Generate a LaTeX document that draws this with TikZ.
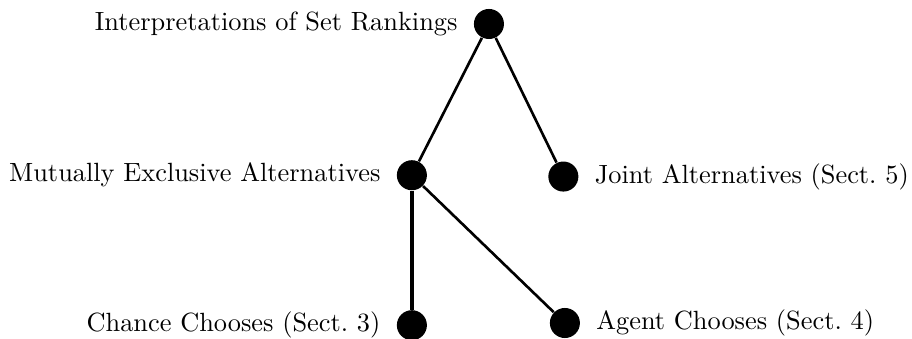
\documentclass[tikz,border=0pt]{standalone}

\begin{document}
\begin{tikzpicture}[
  dot/.style={circle,fill=black,inner sep=0pt,minimum size=11.4pt},
  label distance=2.5pt,
  edge from parent/.style={draw,line width=1pt}
]
  \useasboundingbox (0,0) rectangle (346pt,128.6pt);

  \path node[dot,label=left:{Interpretations of Set Rankings}] (sets) at (185.5pt,119.5pt) {}
    % exclusive
    child[grow=243.6,level distance=64.4pt] { node[dot,label=left:{Mutually Exclusive Alternatives}] (mutex) {}
      child[grow=-90,level distance=56.9pt,edge from parent/.style={draw,line width=1.5pt}]
      {node[dot,label=left:{Chance Chooses (Sect.~3)}] (chance) {}}
      child[grow=-44.8,level distance=80.7pt]
      {node[dot,label=right:{Agent Chooses (Sect.~4)}] (agent) {}}
    }
    % joint
    child[grow=296.4,level distance=64.4pt] { node[dot,label=right:{Joint Alternatives (Sect.~5)}] (joint) {} };
\end{tikzpicture}
\end{document}
